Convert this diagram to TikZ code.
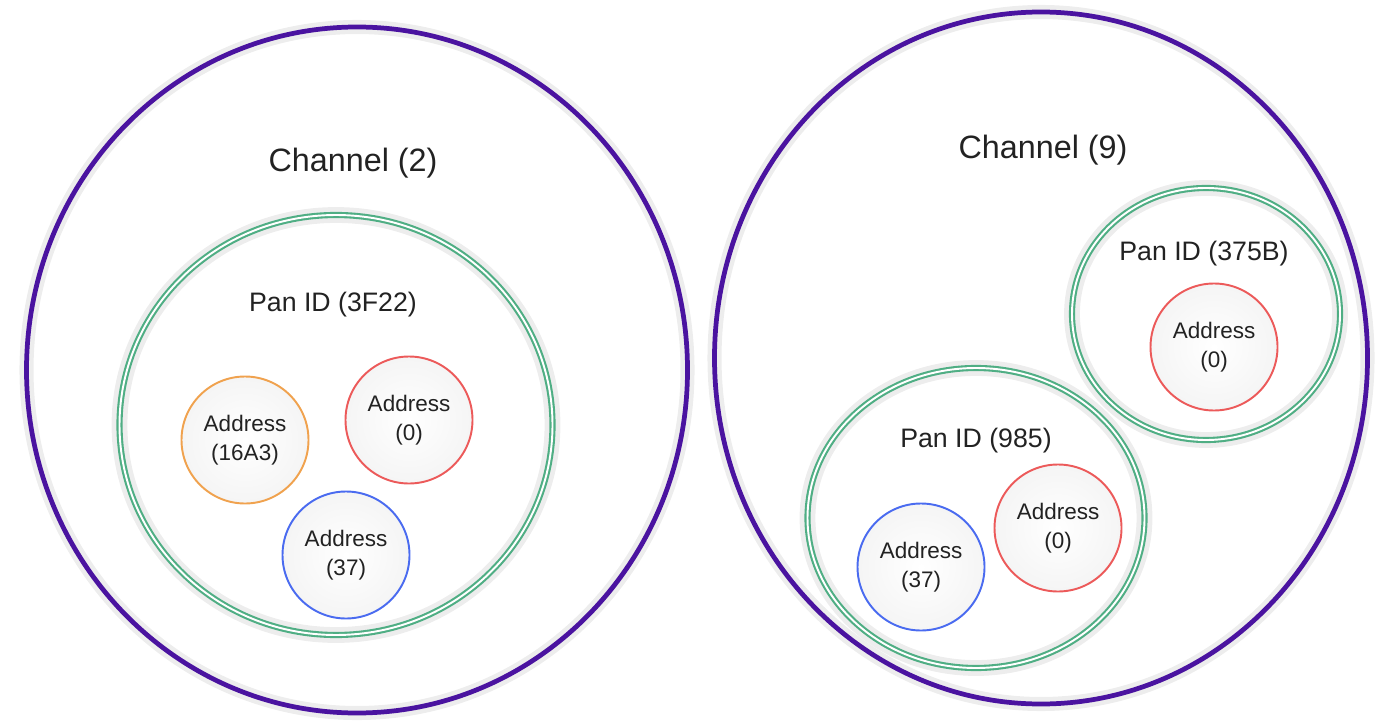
\documentclass[tikz,border=0pt]{standalone}
\usepackage{fontspec}
\setmainfont{Liberation Sans}
\usepackage{tikz}
\usetikzlibrary{positioning,shapes.geometric}
\definecolor{chan}{HTML}{4A13A0}
\definecolor{pan}{HTML}{4FAE84}
\definecolor{addrorange}{HTML}{F0A24E}
\definecolor{addrred}{HTML}{EC5A5A}
\definecolor{addrblue}{HTML}{4A6BF0}
\definecolor{ink}{HTML}{222222}
\tikzset{
  canal/.style={ellipse,draw=chan,line width=1.35pt,inner sep=0pt,
    preaction={draw=black!7,line width=4pt}},
  red pan/.style={ellipse,draw=pan,line width=0.6pt,double=white,double distance=0.55pt,inner sep=0pt,
    preaction={draw=black!7,line width=4.5pt}},
  dir/.style={circle,draw=#1,line width=0.55pt,inner sep=0pt,minimum size=1.27cm,
    inner color=white,outer color=black!4,
    font=\fontsize{6.4}{8.2}\selectfont,text=ink,align=center},
  titulo/.style={font=\fontsize{9.2}{11}\selectfont,text=ink},
  subtitulo/.style={font=\fontsize{7.6}{9}\selectfont,text=ink},
}

\begin{document}
\begin{tikzpicture}
  \useasboundingbox (0,0) rectangle (13.8,7.24);
  % canales
  \node[canal,minimum width=6.61cm,minimum height=6.86cm] (ch2) at (3.57,3.54) {};
  \node[canal,minimum width=6.53cm,minimum height=6.92cm] (ch9) at (10.41,3.66) {};
  \node[titulo] (ch2t) at (3.53,5.61) {Channel (2)};
  \node[titulo] (ch9t) at (10.43,5.74) {Channel (9)};
  % redes
  \node[red pan,minimum width=4.33cm,minimum height=4.20cm] (p3F22) at (3.36,2.99) {};
  \node[red pan,minimum width=2.68cm,minimum height=2.52cm] (p375B) at (12.06,4.10) {};
  \node[red pan,minimum width=3.37cm,minimum height=3.00cm] (p985) at (9.76,2.06) {};
  \node[subtitulo] (p3F22t) at (3.33,4.19) {Pan ID (3F22)};
  \node[subtitulo] (p375Bt) at (12.04,4.70) {Pan ID (375B)};
  \node[subtitulo] (p985t) at (9.76,2.83) {Pan ID (985)};
  % direcciones
  \node[dir=addrorange] (a16A3) at (2.45,2.84) {Address\\(16A3)};
  \node[dir=addrred] (a0i) at (4.09,3.04) {Address\\(0)};
  \node[dir=addrblue] (a37i) at (3.46,1.69) {Address\\(37)};
  \node[dir=addrred] (a0s) at (12.14,3.77) {Address\\(0)};
  \node[dir=addrblue] (a37d) at (9.21,1.57) {Address\\(37)};
  \node[dir=addrred] (a0d) at (10.58,1.96) {Address\\(0)};
\end{tikzpicture}
\end{document}
